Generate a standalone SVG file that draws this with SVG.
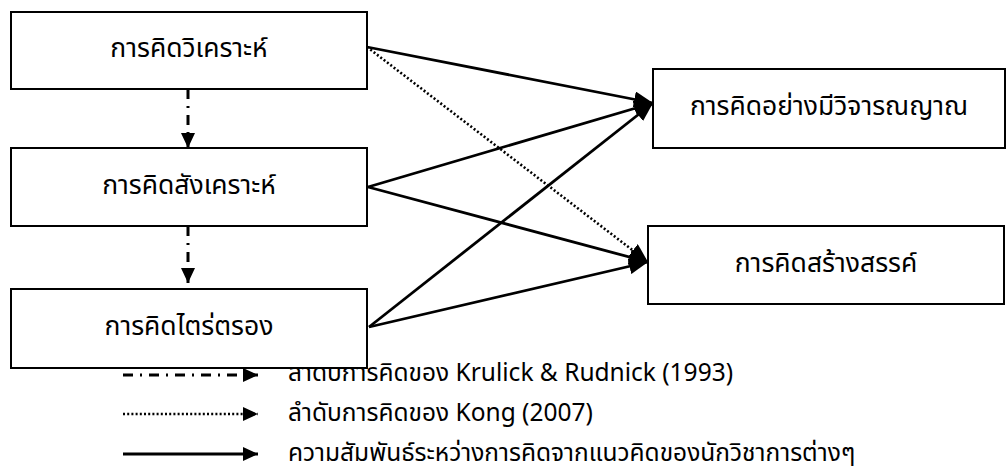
<svg xmlns="http://www.w3.org/2000/svg" width="1006" height="472" viewBox="0 0 1006 472">
<style>
.box{fill:#fff;stroke:#000;stroke-width:2}
.t{font-family:"Leelawadee UI","Noto Sans Thai","Noto Sans","DejaVu Sans",sans-serif;fill:#000}
.b{font-size:26.5px;text-anchor:middle}
.l{font-size:24.5px}
.solid{fill:none;stroke:#000;stroke-width:2.8}
.dot{fill:none;stroke:#000;stroke-width:2.6;stroke-dasharray:2 2.2}
.dd{fill:none;stroke:#000;stroke-width:3;stroke-dasharray:10 7 2 7}
</style>
<defs>
<marker id="ah" markerUnits="userSpaceOnUse" markerWidth="20" markerHeight="16" refX="19" refY="8" orient="auto"><path d="M0,0 L19,8 L0,16 z" fill="#000"/></marker>
<marker id="ahs" markerUnits="userSpaceOnUse" markerWidth="16" markerHeight="14" refX="15" refY="7" orient="auto"><path d="M0,0 L15,7 L0,14 z" fill="#000"/></marker>
</defs>
<g id="legend">
<line class="dd" x1="123" y1="375" x2="258" y2="375" marker-end="url(#ahs)"/>
<text class="t l" x="288" y="381">ลำดับการคิดของ Krulick &amp; Rudnick (1993)</text>
<line class="dot" x1="123" y1="414" x2="258" y2="414" marker-end="url(#ahs)"/>
<text class="t l" x="288" y="421">ลำดับการคิดของ Kong (2007)</text>
<line class="solid" x1="123" y1="454" x2="258" y2="454" marker-end="url(#ahs)"/>
<text class="t l" x="288" y="461">ความสัมพันธ์ระหว่างการคิดจากแนวคิดของนักวิชาการต่างๆ</text>
</g>
<g id="connectors">
<line class="solid" x1="367" y1="47" x2="653" y2="103" marker-end="url(#ah)"/>
<line class="dot" x1="367" y1="47" x2="648" y2="262" marker-end="url(#ah)"/>
<line class="solid" x1="368" y1="187" x2="653" y2="103" marker-end="url(#ah)"/>
<line class="solid" x1="368" y1="187" x2="648" y2="262" marker-end="url(#ah)"/>
<line class="solid" x1="369" y1="327" x2="653" y2="103" marker-end="url(#ah)"/>
<line class="solid" x1="369" y1="327" x2="648" y2="262" marker-end="url(#ah)"/>
<line class="dd" x1="188" y1="89" x2="188" y2="148" marker-end="url(#ahs)"/>
<line class="dd" x1="188" y1="226" x2="188" y2="283" marker-end="url(#ahs)"/>
</g>
<g id="n1"><rect class="box" x="11" y="12" width="356" height="77"/><text class="t b" x="189" y="57">การคิดวิเคราะห์</text></g>
<g id="n2"><rect class="box" x="11" y="148" width="356" height="78"/><text class="t b" x="189" y="194">การคิดสังเคราะห์</text></g>
<g id="n3"><rect class="box" x="11" y="289" width="356" height="79"/><text class="t b" x="189" y="335">การคิดไตร่ตรอง</text></g>
<g id="n4"><rect class="box" x="653" y="69" width="352" height="79"/><text class="t b" x="829" y="115">การคิดอย่างมีวิจารณญาณ</text></g>
<g id="n5"><rect class="box" x="648" y="226" width="356" height="78"/><text class="t b" x="826" y="272">การคิดสร้างสรรค์</text></g>
</svg>
